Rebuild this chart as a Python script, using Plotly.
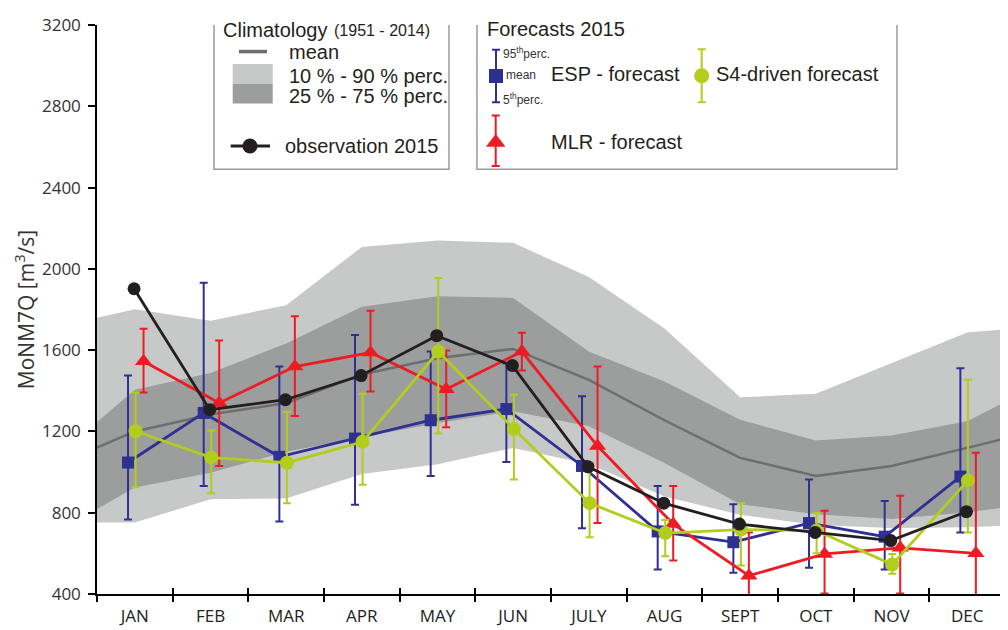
import plotly.graph_objects as go

# ---------------- data ----------------
months = ["JAN", "FEB", "MAR", "APR", "MAY", "JUN", "JULY", "AUG", "SEPT", "OCT", "NOV", "DEC"]

# climatology (1951-2014): values at left edge, 12 month centres, right edge
clim_p90 = [1759, 1801, 1745, 1821, 2108, 2139, 2128, 1960, 1707, 1368, 1386, 1536, 1687, 1702]
clim_p75 = [1247, 1405, 1487, 1633, 1813, 1865, 1857, 1593, 1446, 1258, 1155, 1180, 1250, 1345]
clim_mean = [1120, 1200, 1283, 1340, 1480, 1560, 1606, 1454, 1255, 1070, 981, 1030, 1119, 1165]
clim_p25 = [818, 924, 997, 1100, 1170, 1242, 1299, 1226, 1045, 842, 793, 769, 801, 826]
clim_p10 = [752, 752, 866, 870, 990, 1038, 1119, 1040, 880, 790, 740, 725, 728, 735]

# ESP forecast: mean, 95th, 5th percentile
esp_mean = [1047, 1291, 1075, 1165, 1255, 1310, 1030, 708, 655, 749, 682, 978]
esp_p95 = [1475, 1932, 1519, 1674, 1593, 1535, 1373, 932, 842, 964, 858, 1511]
esp_p05 = [767, 932, 757, 839, 981, 1049, 723, 521, 504, 529, 520, 703]

# S4-driven forecast
s4_mean = [1201, 1071, 1046, 1149, 1593, 1212, 847, 700, 717, 712, 545, 959]
s4_p95 = [1390, 1204, 1296, 1385, 1955, 1380, 1020, 764, 847, 798, 597, 1454]
s4_p05 = [925, 896, 847, 937, 1190, 964, 679, 586, 540, 600, 500, 703]

# MLR forecast
mlr_mean = [1545, 1340, 1519, 1588, 1408, 1593, 1128, 744, 490, 597, 627, 600]
mlr_p95 = [1705, 1647, 1767, 1794, 1598, 1686, 1519, 932, 703, 810, 883, 1095]
mlr_p05 = [1391, 1030, 1276, 1397, 1221, 1500, 749, 565, 380, 402, 402, 380]

# observation 2015
obs_2015 = [1902, 1307, 1356, 1475, 1671, 1524, 1026, 847, 744, 703, 663, 805]

y_ticks = [400, 800, 1200, 1600, 2000, 2400, 2800, 3200]

# ---------------- style ----------------
C_LIGHT = "#c7c8c8"
C_DARK = "#9c9d9d"
C_MEAN = "#6d6e70"
C_BLUE = "#2e3192"
C_RED = "#ed1c24"
C_GREEN = "#b3cd1c"
C_BLACK = "#231f20"
AX_FONT = "Open Sans, Liberation Sans, sans-serif"
LG_FONT = "Liberation Sans, Arial, sans-serif"

centres = [i + 0.5 for i in range(len(months))]
clim_pos = [0] + centres + [len(months)]

fig = go.Figure()

# climatology bands
fig.add_trace(go.Scatter(x=clim_pos + clim_pos[::-1], y=clim_p90 + clim_p10[::-1],
                         fill="toself", fillcolor=C_LIGHT, line=dict(width=0),
                         mode="lines", hoverinfo="skip", showlegend=False))
fig.add_trace(go.Scatter(x=clim_pos + clim_pos[::-1], y=clim_p75 + clim_p25[::-1],
                         fill="toself", fillcolor=C_DARK, line=dict(width=0),
                         mode="lines", hoverinfo="skip", showlegend=False))
fig.add_trace(go.Scatter(x=clim_pos, y=clim_mean, mode="lines",
                         line=dict(color=C_MEAN, width=2.5), showlegend=False))


def err(mean, hi, lo, color):
    return dict(type="data", symmetric=False,
                array=[h - m for h, m in zip(hi, mean)],
                arrayminus=[m - l for m, l in zip(mean, lo)],
                color=color, thickness=2, width=4)


def series(mean, hi, lo, off, color, symbol, size):
    return go.Scatter(x=[c + off for c in centres], y=mean, mode="lines+markers",
                      line=dict(color=color, width=2.8),
                      marker=dict(symbol=symbol, size=size, color=color),
                      error_y=err(mean, hi, lo, color), showlegend=False)


fig.add_trace(series(esp_mean, esp_p95, esp_p05, -0.09, C_BLUE, "square", 12))
fig.add_trace(series(mlr_mean, mlr_p95, mlr_p05, 0.115, C_RED, "triangle-up", 15))
fig.add_trace(series(s4_mean, s4_p95, s4_p05, 0.01, C_GREEN, "circle", 14))
fig.add_trace(go.Scatter(x=[c - 0.01 for c in centres], y=obs_2015, mode="lines+markers",
                         line=dict(color=C_BLACK, width=2.8),
                         marker=dict(symbol="circle", size=13, color=C_BLACK),
                         showlegend=False))

# helper trace for the inner half of the x ticks
fig.add_trace(go.Scatter(x=[6], y=[800], xaxis="x2", mode="markers",
                         marker=dict(opacity=0), hoverinfo="skip", showlegend=False))

# ---------------- legend (drawn in pixel space on hidden overlay axes) ----------------
LEG = dict(xaxis="x3", yaxis="y3", showlegend=False, hoverinfo="skip", cliponaxis=False)
fig.add_trace(go.Scatter(x=[230.7, 270], y=[146.7, 146.7], mode="lines",
                         line=dict(color=C_BLACK, width=3), **LEG))
fig.add_trace(go.Scatter(x=[250], y=[146.7], mode="markers",
                         marker=dict(symbol="circle", size=15, color=C_BLACK), **LEG))
fig.add_trace(go.Scatter(x=[496], y=[76.3], mode="markers",
                         marker=dict(symbol="square", size=14, color=C_BLUE),
                         error_y=dict(type="constant", value=26.3, color=C_BLUE, thickness=2, width=4), **LEG))
fig.add_trace(go.Scatter(x=[701.7], y=[76], mode="markers",
                         marker=dict(symbol="circle", size=15, color=C_GREEN),
                         error_y=dict(type="constant", value=26.7, color=C_GREEN, thickness=2, width=4), **LEG))
fig.add_trace(go.Scatter(x=[495.7], y=[143], mode="markers",
                         marker=dict(symbol="triangle-up", size=17, color=C_RED),
                         error_y=dict(type="data", symmetric=False, array=[23.7], arrayminus=[27],
                                      color=C_RED, thickness=2, width=4), **LEG))

shapes = [
    dict(type="rect", xref="x3", yref="y3", x0=214, x1=449, y0=12.7, y1=170,
         line=dict(color="#9a9a9a", width=1.5), layer="above"),
    dict(type="rect", xref="x3", yref="y3", x0=477, x1=897, y0=12.7, y1=170,
         line=dict(color="#9a9a9a", width=1.5), layer="above"),
    dict(type="line", xref="x3", yref="y3", x0=239, x1=267, y0=51.7, y1=51.7,
         line=dict(color=C_MEAN, width=3.5)),
    dict(type="rect", xref="x3", yref="y3", x0=232.7, x1=272.7, y0=64.3, y1=84,
         fillcolor=C_LIGHT, line=dict(width=0)),
    dict(type="rect", xref="x3", yref="y3", x0=232.7, x1=272.7, y0=84, y1=104,
         fillcolor=C_DARK, line=dict(width=0)),
]


def txt(x, y, s, size=20, color="#231f20"):
    return dict(xref="x3", yref="y3", x=x, y=y, text=s, showarrow=False,
                xanchor="left", yanchor="middle",
                font=dict(family=LG_FONT, size=size, color=color))


annotations = [
    txt(221, 30.5, "Climatology"),
    txt(332, 31, "(1951 - 2014)", 16),
    txt(287, 52, "mean"),
    txt(287, 76, "10 % - 90 % perc."),
    txt(287, 96, "25 % - 75 % perc."),
    txt(283, 146.7, "observation 2015"),
    txt(484.5, 29, "Forecasts 2015"),
    txt(501, 53, "95<sup>th</sup>perc.", 12, "#333333"),
    txt(504, 75.7, "mean", 12, "#333333"),
    txt(501, 99.5, "5<sup>th</sup>perc.", 12, "#333333"),
    txt(549, 74, "ESP - forecast"),
    txt(714, 74, "S4-driven forecast"),
    txt(549, 143, "MLR - forecast"),
]

# The page body adds an 8 px offset, so the figure is 8 px smaller and the
# margins are reduced accordingly to keep the plot area at the reference pixels.
fig.update_layout(
    width=1000, height=622,
    margin=dict(l=89, r=3, t=17, b=33),
    paper_bgcolor="white", plot_bgcolor="white",
    showlegend=False,
    shapes=shapes, annotations=annotations,
    xaxis=dict(range=[0, 12], showgrid=False, zeroline=False,
               showline=True, linecolor="black", linewidth=1.5,
               tickmode="array", tickvals=centres, ticktext=months,
               ticks="outside", ticklen=6, tickcolor="rgba(0,0,0,0)",
               tickfont=dict(family=AX_FONT, size=17, color="#222222"),
               minor=dict(tick0=0, dtick=1, ticks="outside", ticklen=6,
                          tickwidth=1.5, tickcolor="black", showgrid=False)),
    xaxis2=dict(overlaying="x", anchor="y", range=[0, 12], showgrid=False, zeroline=False,
                showline=False, tickmode="array", tickvals=list(range(13)),
                ticks="inside", ticklen=6, tickwidth=1.5, tickcolor="black",
                showticklabels=False, side="bottom"),
    yaxis=dict(range=[400, 3200], showgrid=False, zeroline=False,
               showline=True, linecolor="black", linewidth=1.5,
               tickmode="array", tickvals=y_ticks,
               ticks="outside", ticklen=7, tickwidth=1.5, tickcolor="black",
               ticklabelstandoff=4,
               tickfont=dict(family=AX_FONT, size=17, color="#333333"),
               title=dict(text="MoNM7Q [m<sup>3</sup>/s]", standoff=2,
                          font=dict(family=AX_FONT, size=21, color="#333333"))),
    xaxis3=dict(overlaying="x", anchor="y3", range=[97, 1005], visible=False),
    yaxis3=dict(overlaying="y", anchor="x3", range=[597, 25], visible=False),
)

fig.write_html("out.html")
